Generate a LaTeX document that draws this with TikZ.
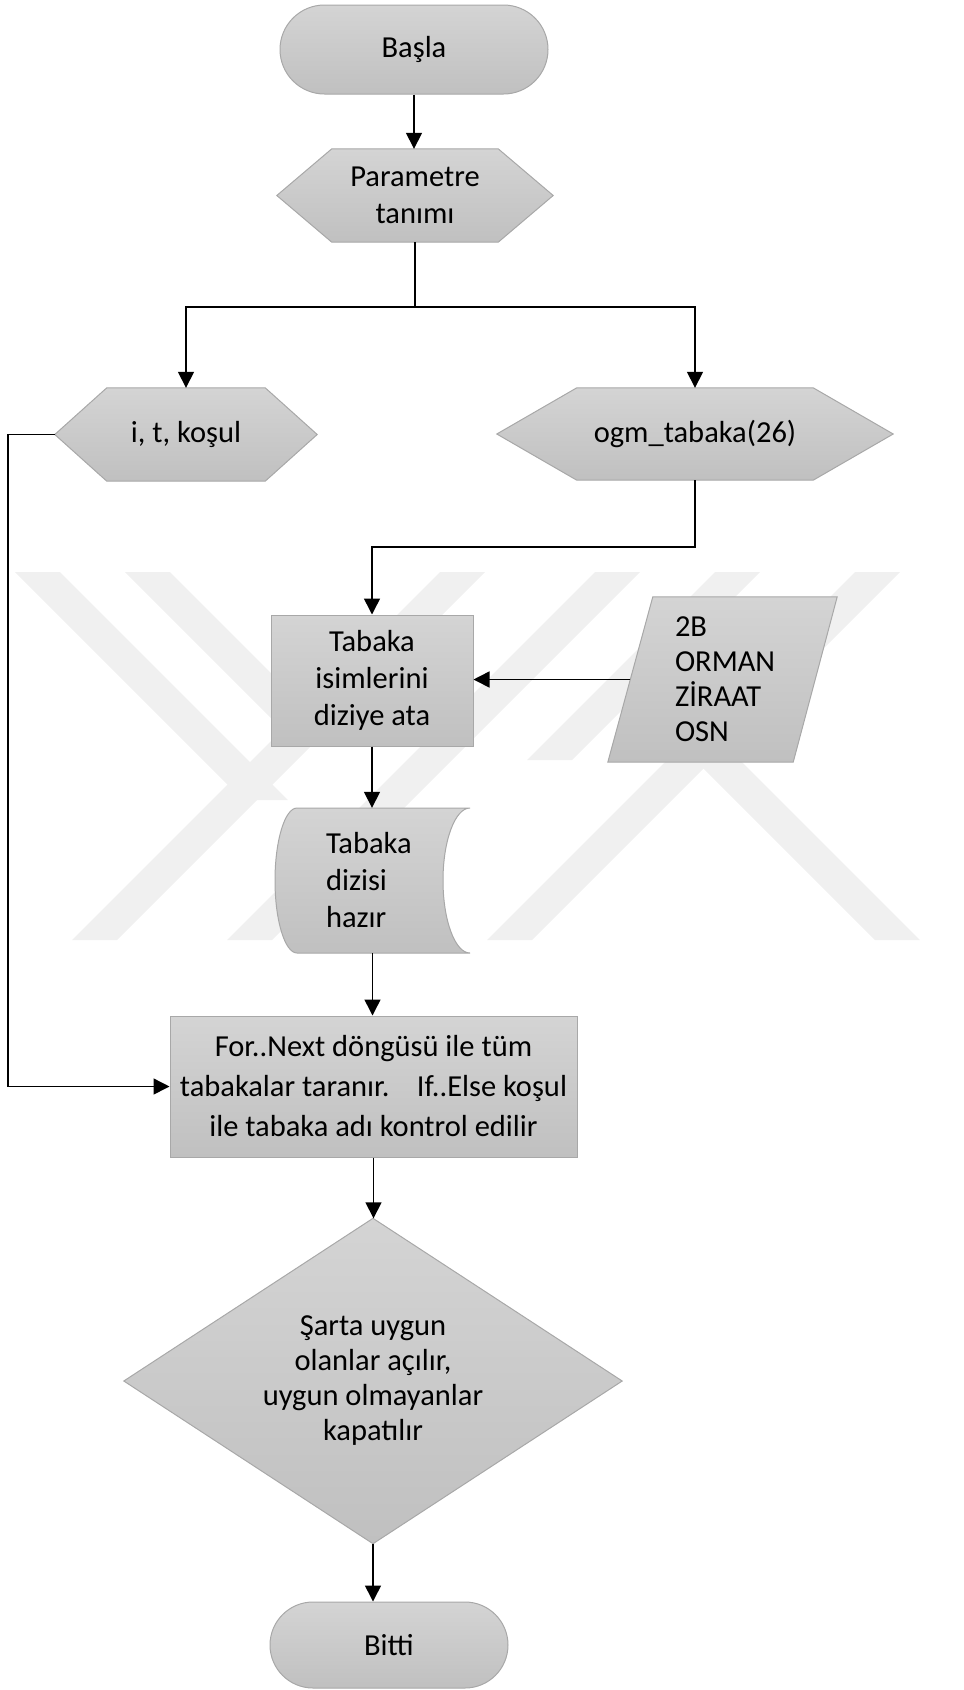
\documentclass[tikz,border=0pt]{standalone}
\usepackage{fontspec}
\setmainfont{Carlito}
\usetikzlibrary{arrows.meta,shapes.misc,calc}
\pgfdeclarelayer{marks}
\pgfdeclarelayer{background}
\pgfsetlayers{marks,background,main}
\definecolor{shadeTop}{RGB}{212,212,212}
\definecolor{shadeBot}{RGB}{192,192,192}
\definecolor{edgeGray}{RGB}{168,168,168}
\definecolor{markGray}{RGB}{240,240,240}

\tikzset{
  shapefill/.style={top color=shadeTop, bottom color=shadeBot, draw=edgeGray, line width=1pt},
  label/.style={font=\fontsize{30.5}{37}\selectfont, align=center, inner sep=0pt, text=black},
  frame/.style={label, rectangle, draw=none},
  flowbox/.style={label, rectangle, shapefill},
  terminal/.style={label, rounded rectangle, shapefill},
  link/.style={line width=1.5pt, black},
  flow/.style={link, -{Triangle[length=16pt,width=16pt]}},
  band/.style={fill=markGray, draw=none},
}

% hexagon with pointed left and right ends, drawn around a named frame node
\newcommand{\hexfill}[2]{%
  \path[shapefill] (#1.west) -- ([xshift=#2pt]#1.north west) -- ([xshift=-#2pt]#1.north east)
    -- (#1.east) -- ([xshift=-#2pt]#1.south east) -- ([xshift=#2pt]#1.south west) -- cycle;}

\begin{document}
\begin{tikzpicture}[x=1pt,y=-1pt]
\useasboundingbox (0,0) rectangle (964,1690);

% ---- flowchart nodes ----
\node[terminal, minimum width=268pt, minimum height=89pt] (basla) at (414,49.5) {Başla};
\node[frame, minimum width=276pt, minimum height=93pt] (param) at (415,195.5) {Parametre\\tanımı};
\node[frame, minimum width=262pt, minimum height=93pt] (itk) at (186,434.5) {i, t, koşul};
\node[frame, minimum width=396pt, minimum height=92pt] (ogm) at (695,434) {ogm\_tabaka(26)};
\node[flowbox, minimum width=202pt, minimum height=131pt] (tabisim) at (372,680.5) {Tabaka\\isimlerini\\diziye ata};
\node[frame, minimum width=229pt, minimum height=165pt, text width=95pt, align=left,
      font=\fontsize{30.5}{35}\selectfont] (liste) at (722.5,679.5) {2B\\ORMAN\\ZİRAAT\\OSN};
\node[frame, minimum width=195pt, minimum height=145pt, text width=93pt, align=left] (dizi) at (372.5,880.5) {Tabaka\\dizisi\\hazır};
\node[flowbox, minimum width=407pt, minimum height=141pt, font=\fontsize{30.5}{40}\selectfont] (dongu) at (373.5,1086.5)
  {For..Next döngüsü ile tüm\\tabakalar taranır.\hspace{0.6em} If..Else koşul\\ile tabaka adı kontrol edilir};
\node[frame, minimum width=498pt, minimum height=325pt, font=\fontsize{30.5}{35}\selectfont] (karar) at (373,1381)
  {Şarta uygun\\olanlar açılır,\\uygun olmayanlar\\kapatılır};
\node[terminal, minimum width=238pt, minimum height=86pt] (bitti) at (389,1645) {Bitti};

% ---- outlines of the non-rectangular symbols ----
\begin{pgfonlayer}{background}
  \hexfill{param}{55}
  \hexfill{itk}{52}
  \hexfill{ogm}{80}
  \path[shapefill] ([xshift=45pt]liste.north west) -- (liste.north east)
    -- ([xshift=-44pt]liste.south east) -- (liste.south west) -- cycle;
  \path[shapefill] (karar.north) -- (karar.east) -- (karar.south) -- (karar.west) -- cycle;
  % stored data symbol
  \path[shapefill] (297,808) -- (470,808)
    .. controls (455.1,808) and (443,840.5) .. (443,880.5)
    .. controls (443,920.5) and (455.1,953) .. (470,953)
    -- (297,953)
    .. controls (284.9,953) and (275,920.5) .. (275,880.5)
    .. controls (275,840.5) and (284.9,808) .. (297,808) -- cycle;
\end{pgfonlayer}

% ---- faint background mark ----
\begin{pgfonlayer}{marks}
  \fill[band] (15,572) -- (60,572) -- (288,800) -- (243,800) -- cycle;
  \fill[band] (125,572) -- (170,572) -- (318,720) -- (273,720) -- cycle;
  \fill[band] (440,572) -- (485,572) -- (117,940) -- (72,940) -- cycle;
  \fill[band] (595,572) -- (640,572) -- (272,940) -- (227,940) -- cycle;
  \fill[band] (715,572) -- (760,572) -- (572,760) -- (527,760) -- cycle;
  \fill[band] (855,572) -- (900,572) -- (532,940) -- (487,940) -- cycle;
  \fill[band] (680,745) -- (725,745) -- (920,940) -- (875,940) -- cycle;
\end{pgfonlayer}

% ---- connectors ----
\coordinate (split) at ($(param.south)+(0,65)$);
\coordinate (listeIn) at ($(liste.west)+(22.5,0)$);
\draw[flow] (basla.south) -- (basla.south |- param.north);
\draw[flow] (param.south) -- (split) -| (itk.north);
\draw[flow] (split) -| (ogm.north);
\draw[flow] (ogm.south) -- ++(0,67) -| (tabisim.north);
\draw[flow] (itk.west) -- ++(-47,0) |- (dongu.west);
\draw[flow] (listeIn) -- (listeIn -| tabisim.east);
\draw[flow] (tabisim.south) -- (tabisim.south |- dizi.north);
\draw[flow] (dizi.south) -- (dizi.south |- dongu.north);
\draw[flow] (dongu.south) -- (dongu.south |- karar.north);
\draw[flow] (karar.south) -- (karar.south |- bitti.north);
\end{tikzpicture}
\end{document}
